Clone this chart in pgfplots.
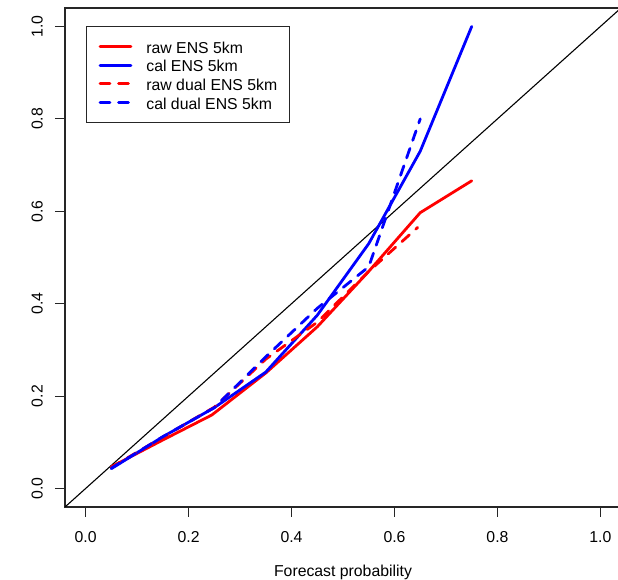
\documentclass[border=0pt]{standalone}
\usepackage{pgfplots}
\pgfplotsset{compat=1.18}
\usepackage{fontspec}
\setmainfont{Liberation Sans}

\pgfplotstableread{
x y
0.05 0.047
0.15 0.105
0.245 0.159
0.35 0.250
0.45 0.350
0.55 0.470
0.65 0.597
0.75 0.666
}\rawens
\pgfplotstableread{
x y
0.05 0.043
0.15 0.112
0.25 0.175
0.35 0.252
0.45 0.375
0.55 0.530
0.65 0.730
0.75 1.000
}\calens
\pgfplotstableread{
x y
0.05 0.046
0.15 0.111
0.25 0.176
0.35 0.280
0.45 0.360
0.55 0.470
0.645 0.565
}\rawdual
\pgfplotstableread{
x y
0.05 0.044
0.15 0.112
0.25 0.175
0.35 0.285
0.45 0.390
0.55 0.480
0.65 0.800
}\caldual

\begin{document}
\fontsize{15.8}{19}\selectfont
\begin{tikzpicture}
\begin{axis}[
  at={(0pt,0pt)}, anchor=south west,
  scale only axis, width=556pt, height=499pt,
  xmin=-0.04, xmax=1.04, ymin=-0.04, ymax=1.04,
  xtick={0,0.2,0.4,0.6,0.8,1},
  ytick={0,0.2,0.4,0.6,0.8,1},
  xtick pos=bottom, ytick pos=left,
  tick align=outside, major tick length=10pt,
  axis line style={line width=1.2pt, black!85},
  tick style={line width=1.2pt, black!85},
  ticklabel style={font=\fontsize{15.8}{19}\selectfont},
  /pgf/number format/fixed,
  /pgf/number format/fixed zerofill,
  /pgf/number format/precision=1,
  /pgf/number format/assume math mode=true,
  xticklabel style={anchor=north, inner sep=0pt, yshift=-14.3pt},
  yticklabel style={anchor=south, inner sep=0pt, xshift=-12pt, rotate=90},
  xlabel={Forecast probability},
  xlabel style={at={(axis description cs:0.5,0)}, anchor=base, inner sep=0pt, yshift=-69pt, font=\fontsize{15.8}{19}\selectfont},
  legend style={at={(0.0378,0.964)}, anchor=north west, draw=black!85, line width=1.2pt, fill=white,
    inner xsep=12pt, inner ysep=13.3pt, column sep=14pt, row sep=5.2pt,
    nodes={inner sep=0pt, text height=13.4pt, text depth=0pt},
    font=\fontsize{15.8}{19}\selectfont},
  legend cell align=left,
  legend image code/.code={\draw[#1] (0pt,0pt) -- (31pt,0pt);},
]
\addplot[black, line width=1.1pt, forget plot] coordinates {(-0.04,-0.04) (1.04,1.04)};
\addplot[red, line width=2.8pt, line cap=round, line join=round] table {\rawens};
\addlegendentry{raw ENS 5km}
\addplot[blue, line width=2.8pt, line cap=round, line join=round] table {\calens};
\addlegendentry{cal ENS 5km}
\addplot[red, line width=2.8pt, line cap=round, line join=round, dash pattern=on 10pt off 8.5pt] table {\rawdual};
\addlegendentry{raw dual ENS 5km}
\addplot[blue, line width=2.8pt, line cap=round, line join=round, dash pattern=on 10pt off 8.5pt] table {\caldual};
\addlegendentry{cal dual ENS 5km}
\end{axis}
\pgfresetboundingbox
\path (-65pt,-73pt) rectangle (553pt,507pt);
\end{tikzpicture}
\end{document}
